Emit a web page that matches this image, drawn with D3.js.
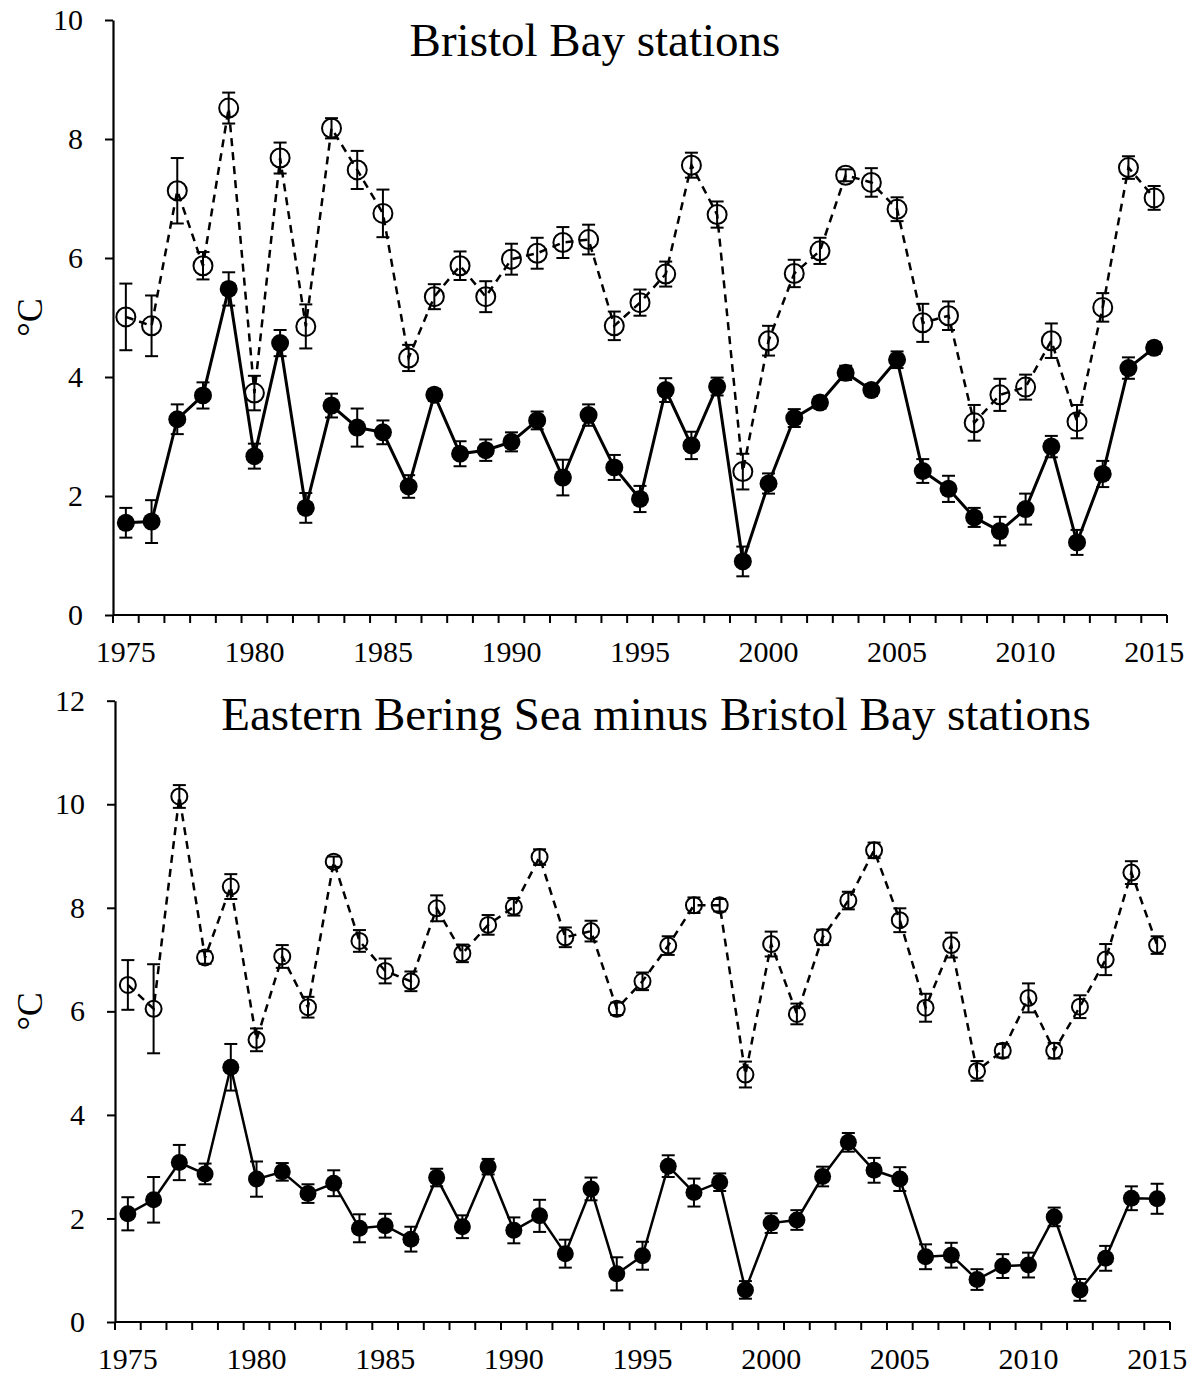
<!DOCTYPE html>
<html><head><meta charset="utf-8">
<script src="https://cdn.jsdelivr.net/npm/d3@7"></script>
<style>body{margin:0;background:#fff}svg{display:block}</style>
</head><body>
<svg id="c" width="1195" height="1378"></svg>
<script>
const years = d3.range(1975, 2016);
const labelYears = [1975,1980,1985,1990,1995,2000,2005,2010,2015];
const titles = ["Bristol Bay stations", "Eastern Bering Sea minus Bristol Bay stations"];
const yLabel = "°C";
const topTicks = [0,2,4,6,8,10];
const botTicks = [0,2,4,6,8,10,12];

const bbOpen = [5.01,4.86,7.13,5.87,8.52,3.73,7.68,4.85,8.18,7.48,6.75,4.32,5.35,5.87,5.35,5.98,6.08,6.26,6.31,4.86,5.25,5.73,7.56,6.73,2.41,4.61,5.74,6.12,7.39,7.27,6.82,4.91,5.03,3.23,3.70,3.83,4.61,3.25,5.17,7.52,7.01];
const bbOpenErr = [0.56,0.51,0.55,0.23,0.26,0.29,0.26,0.37,0.17,0.32,0.40,0.22,0.21,0.24,0.26,0.26,0.26,0.26,0.25,0.24,0.22,0.21,0.21,0.22,0.30,0.25,0.23,0.22,0.10,0.24,0.20,0.32,0.24,0.30,0.27,0.21,0.29,0.28,0.24,0.19,0.20];
const bbFilled = [1.55,1.57,3.29,3.69,5.48,2.67,4.57,1.80,3.52,3.15,3.07,2.16,3.70,2.71,2.77,2.91,3.27,2.31,3.36,2.48,1.95,3.78,2.85,3.84,0.90,2.21,3.31,3.57,4.07,3.78,4.29,2.42,2.12,1.64,1.41,1.78,2.83,1.22,2.37,4.15,4.49];
const bbFilledErr = [0.25,0.36,0.25,0.22,0.28,0.21,0.22,0.25,0.20,0.32,0.20,0.19,0.10,0.21,0.18,0.16,0.15,0.30,0.18,0.21,0.22,0.20,0.23,0.15,0.25,0.17,0.15,0.10,0.12,0.10,0.14,0.20,0.22,0.16,0.24,0.26,0.18,0.21,0.22,0.18,0.10];

const ebsOpen = [6.51,6.05,10.15,7.04,8.41,5.45,7.06,6.08,8.89,7.36,6.78,6.58,7.99,7.12,7.67,8.02,8.98,7.43,7.55,6.05,6.58,7.27,8.05,8.05,4.78,7.30,5.95,7.43,8.14,9.11,7.76,6.07,7.28,4.85,5.24,6.26,5.24,6.09,7.00,8.68,7.28];
const ebsOpenErr = [0.48,0.86,0.22,0.12,0.24,0.22,0.22,0.20,0.10,0.21,0.24,0.19,0.25,0.17,0.19,0.17,0.15,0.19,0.20,0.12,0.17,0.18,0.15,0.12,0.25,0.24,0.20,0.15,0.17,0.15,0.23,0.27,0.24,0.19,0.13,0.28,0.15,0.22,0.30,0.22,0.17];
const ebsFilled = [2.09,2.36,3.08,2.86,4.92,2.76,2.90,2.48,2.68,1.81,1.86,1.60,2.79,1.84,3.00,1.77,2.05,1.32,2.57,0.93,1.28,3.01,2.50,2.70,0.62,1.91,1.97,2.81,3.47,2.93,2.76,1.26,1.29,0.82,1.08,1.10,2.03,0.62,1.23,2.39,2.38];
const ebsFilledErr = [0.32,0.44,0.34,0.20,0.45,0.34,0.17,0.18,0.25,0.27,0.23,0.24,0.17,0.22,0.15,0.25,0.31,0.27,0.22,0.32,0.27,0.21,0.27,0.17,0.17,0.19,0.19,0.19,0.18,0.24,0.23,0.24,0.24,0.20,0.23,0.24,0.18,0.21,0.24,0.23,0.29];

const svg = d3.select("#c");
const FONT = "'Liberation Serif','Times New Roman',serif";

function panel(cfg) {
  const g = svg.append("g");
  const x = d3.scaleBand().domain(years).range([cfg.x0, cfg.x1]).padding(0);
  const y = d3.scaleLinear().domain([0, cfg.ymax]).range([cfg.y0, cfg.y1]);
  const cx = yr => x(yr) + x.bandwidth() / 2;

  const ya = g.append("g").attr("transform", `translate(${cfg.x0},0)`)
    .call(d3.axisLeft(y).tickValues(cfg.ticks).tickSize(8).tickPadding(22).tickSizeOuter(0));
  ya.select(".domain").attr("stroke-width", 2.2);
  ya.selectAll(".tick line").attr("stroke-width", 2);
  ya.selectAll("text").attr("font-family", FONT).attr("font-size", 30).attr("fill", "#000");

  const xa = g.append("g").attr("transform", `translate(0,${cfg.y0})`)
    .call(d3.axisBottom(x).tickValues(labelYears).tickSize(0).tickPadding(26));
  xa.select(".domain").attr("stroke-width", 2.2).attr("d", `M${cfg.x0},0H${cfg.x1}`);
  xa.selectAll("text").attr("font-family", FONT).attr("font-size", 30).attr("fill", "#000");
  const bounds = years.map(yr => x(yr)).concat([cfg.x1]);
  g.append("g").selectAll("line").data(bounds).join("line")
    .attr("x1", d => d).attr("x2", d => d)
    .attr("y1", cfg.y0).attr("y2", cfg.y0 + 8)
    .attr("stroke", "#000").attr("stroke-width", 2);

  g.append("text")
    .attr("transform", `translate(${cfg.ylx},${(cfg.y0 + cfg.y1) / 2}) rotate(-90)`)
    .attr("text-anchor", "middle").attr("dominant-baseline", "central")
    .attr("font-family", FONT).attr("font-size", 36).text(yLabel);

  g.append("text").attr("x", cfg.tx).attr("y", cfg.ty).attr("text-anchor", "middle")
    .attr("font-family", FONT).attr("font-size", cfg.tfs).text(cfg.title);

  const line = d3.line().x((d, i) => cx(years[i])).y(d => y(d));
  g.append("path").datum(cfg.open).attr("d", line).attr("fill", "none")
    .attr("stroke", "#000").attr("stroke-width", cfg.dashW).attr("stroke-dasharray", "8,6");
  g.append("path").datum(cfg.filled).attr("d", line).attr("fill", "none")
    .attr("stroke", "#000").attr("stroke-width", cfg.solidW);

  function errs(vals, er) {
    const eg = g.append("g").attr("stroke", "#000").attr("stroke-width", 2);
    vals.forEach((v, i) => {
      const xx = cx(years[i]);
      const t = y(v + er[i]), b = y(v - er[i]);
      eg.append("line").attr("x1", xx).attr("x2", xx).attr("y1", t).attr("y2", b);
      eg.append("line").attr("x1", xx - 6.5).attr("x2", xx + 6.5).attr("y1", t).attr("y2", t);
      eg.append("line").attr("x1", xx - 6.5).attr("x2", xx + 6.5).attr("y1", b).attr("y2", b);
    });
  }
  errs(cfg.open, cfg.openErr);
  errs(cfg.filled, cfg.filledErr);

  g.append("g").selectAll("circle").data(cfg.filled).join("circle")
    .attr("cx", (d, i) => cx(years[i])).attr("cy", d => y(d)).attr("r", cfg.rf)
    .attr("fill", "#000");
  g.append("g").selectAll("circle").data(cfg.open).join("circle")
    .attr("cx", (d, i) => cx(years[i])).attr("cy", d => y(d)).attr("r", cfg.ro)
    .attr("fill", "none").attr("stroke", "#000").attr("stroke-width", 2);
}

panel({x0: 113, x1: 1167, y0: 615, y1: 20, ymax: 10, ticks: topTicks,
  open: bbOpen, openErr: bbOpenErr, filled: bbFilled, filledErr: bbFilledErr,
  title: titles[0], tx: 595, ty: 56, tfs: 47, ylx: 30, rf: 9, ro: 9.5, dashW: 2.5, solidW: 3});

panel({x0: 115, x1: 1170, y0: 1322, y1: 700.7, ymax: 12, ticks: botTicks,
  open: ebsOpen, openErr: ebsOpenErr, filled: ebsFilled, filledErr: ebsFilledErr,
  title: titles[1], tx: 656, ty: 730, tfs: 47, ylx: 30, rf: 8.5, ro: 8, dashW: 2.5, solidW: 2.5});
</script>
</body></html>
